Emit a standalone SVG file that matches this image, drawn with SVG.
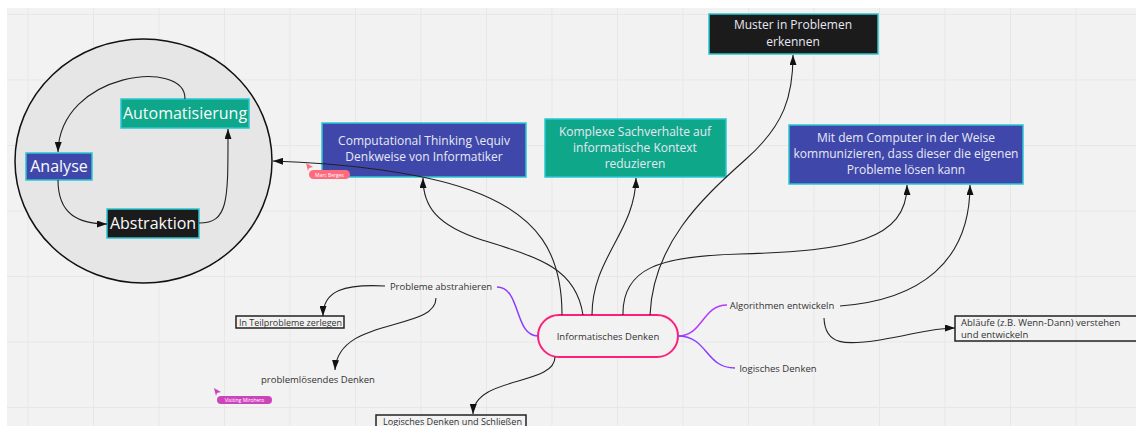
<svg xmlns="http://www.w3.org/2000/svg" width="1136" height="426" viewBox="0 0 1136 426">
<defs>
<marker id="ah" viewBox="0 0 10 7" refX="10" refY="3.5" markerWidth="10" markerHeight="7" markerUnits="userSpaceOnUse" orient="auto">
<path d="M0,0 L10,3.5 L0,7 z" fill="#111"/>
</marker>
<style>
.t{font-family:"Open Sans","Liberation Sans",sans-serif;fill:#333;}
.bt{font-family:"Open Sans","Liberation Sans",sans-serif;fill:#e8e8f4;font-size:12px;text-anchor:middle;}
.big{font-family:"Open Sans","Liberation Sans",sans-serif;fill:#fafafa;font-size:16px;text-anchor:middle;}
.box{stroke:#2ac6d2;stroke-width:1.5;}
.blue{fill:#3f48aa;}
.teal{fill:#0ea789;}
.dark{fill:#1b1b1b;}
.outl{fill:none;stroke:#222;stroke-width:1.5;}
.c{fill:none;stroke:#222;stroke-width:1.1;}
.ca{fill:none;stroke:#222;stroke-width:1.1;marker-end:url(#ah);}
.tag{font-family:"Open Sans","Liberation Sans",sans-serif;fill:#fff;font-size:5px;text-anchor:middle;}
</style>
</defs>
<rect x="0" y="0" width="1136" height="426" fill="#ffffff"/>
<rect x="7" y="8" width="1129" height="418" fill="#f2f2f2"/>
<path d="M28,8V426M93.5,8V426M159,8V426M224.5,8V426M290,8V426M355.5,8V426M421,8V426M486.5,8V426M552,8V426M617.5,8V426M683,8V426M748.5,8V426M814,8V426M879.5,8V426M945,8V426M1010.5,8V426M1076,8V426M7,14.5H1136M7,80H1136M7,145.5H1136M7,211H1136M7,276.5H1136M7,342H1136M7,407.5H1136" stroke="#e7e7e7" stroke-width="1" fill="none"/>

<g id="cycle-circle">
<ellipse cx="143.5" cy="161" rx="128.5" ry="122" fill="#e6e6e6" stroke="#111" stroke-width="1.5"/>
</g>

<g id="node-automatisierung">
<rect class="box teal" x="121" y="99" width="128" height="29"/>
<text class="big" x="185" y="119">Automatisierung</text>
</g>
<g id="node-analyse">
<rect class="box blue" x="26" y="153" width="66" height="27"/>
<text class="big" x="59" y="172">Analyse</text>
</g>
<g id="node-abstraktion">
<rect class="box dark" x="107" y="209" width="92" height="29"/>
<text class="big" x="153" y="229">Abstraktion</text>
</g>

<g id="node-computational">
<rect class="box blue" x="322" y="123" width="204" height="54"/>
<text class="bt" x="424" y="145">Computational Thinking \equiv</text>
<text class="bt" x="424" y="161">Denkweise von Informatiker</text>
</g>
<g id="node-komplexe">
<rect class="box teal" x="545" y="119" width="181" height="58"/>
<text class="bt" x="635" y="136">Komplexe Sachverhalte auf</text>
<text class="bt" x="635" y="152">informatische Kontext</text>
<text class="bt" x="635" y="168">reduzieren</text>
</g>
<g id="node-muster">
<rect class="box dark" x="709" y="14" width="169" height="40"/>
<text class="bt" x="793" y="29">Muster in Problemen</text>
<text class="bt" x="793" y="46">erkennen</text>
</g>
<g id="node-computer">
<rect class="box blue" x="789" y="125" width="234" height="59"/>
<text class="bt" x="906" y="142">Mit dem Computer in der Weise</text>
<text class="bt" x="906" y="158">kommunizieren, dass dieser die eigenen</text>
<text class="bt" x="906" y="174">Probleme lösen kann</text>
</g>

<g id="node-informatisches-denken">
<rect x="538" y="315" width="140" height="42" rx="21" fill="#f2f2f2" stroke="#ff1f7a" stroke-width="2"/>
<text class="t" x="608" y="339.5" font-size="9.5" text-anchor="middle">Informatisches Denken</text>
</g>
<g id="node-probleme-abstrahieren">
<text class="t" x="441" y="289.5" font-size="9.5" text-anchor="middle">Probleme abstrahieren</text>
</g>
<g id="node-algorithmen">
<text class="t" x="782" y="308.5" font-size="9.5" text-anchor="middle">Algorithmen entwickeln</text>
</g>
<g id="node-logisches-denken">
<text class="t" x="778" y="371.5" font-size="9.5" text-anchor="middle">logisches Denken</text>
</g>
<g id="node-teilprobleme">
<rect class="outl" x="236" y="316" width="108" height="12"/>
<text class="t" x="239" y="325.5" font-size="9.5" textLength="103" lengthAdjust="spacingAndGlyphs">In Teilprobleme zerlegen</text>
</g>
<g id="node-problemloesendes">
<text class="t" x="318" y="382.5" font-size="9.5" text-anchor="middle">problemlösendes Denken</text>
</g>
<g id="node-ablaeufe">
<rect class="outl" x="955" y="316" width="182" height="25"/>
<text class="t" x="961" y="325.5" font-size="9.5">Abläufe (z.B. Wenn-Dann) verstehen</text>
<text class="t" x="961" y="338" font-size="9.5">und entwickeln</text>
</g>
<g id="node-logisches-schliessen">
<rect class="outl" x="376" y="415" width="150" height="16"/>
<text class="t" x="383" y="424.5" font-size="9.5" textLength="139" lengthAdjust="spacingAndGlyphs">Logisches Denken und Schließen</text>
</g>

<g id="connectors">
<path class="ca" d="M185,99 C186,58 60,72 58,152"/>
<path class="ca" d="M58,180 C58,214 78,224 107,224"/>
<path class="ca" d="M199,223 C229,223 228,200 228,129"/>
<path class="ca" d="M562,315 C562,255 540,215 470,190 C420,172 340,163 273,161"/>
<path class="ca" d="M583,315 C576,268 540,258 482,240 C436,225 423,206 423,178"/>
<path class="ca" d="M592,315 C592,258 635,232 636,178"/>
<path class="ca" d="M623,315 C622,268 660,256 740,254 C850,251 907,240 907,185"/>
<path class="ca" d="M650,315 C653,245 700,200 745,160 C785,125 793,95 793,55"/>
<path class="ca" d="M555,357 C555,386 474,376 473,414"/>
<path d="M538,336 C514,336 521,287 497,287" fill="none" stroke="#8b3cff" stroke-width="1.5"/>
<path d="M678,336 C703,336 702,305 727,305" fill="none" stroke="#b43cff" stroke-width="1.5"/>
<path d="M678,336 C708,336 705,368 735,368" fill="none" stroke="#8b3cff" stroke-width="1.5"/>
<path class="ca" d="M385,286 C345,284 323,290 323,316"/>
<path class="ca" d="M436,298 C436,332 338,316 335,370"/>
<path class="ca" d="M840,306 C920,300 970,262 970,185"/>
<path class="ca" d="M824,318 C825,346 846,345 880,340 C912,335 930,328 955,328"/>
</g>

<g id="cursor-marc">
<path d="M306,163 L313,167 L309,168 L308,171 z" fill="#ff6a7d"/>
<rect x="309" y="170" width="41" height="9" rx="4.5" fill="#ff6a7d"/>
<text class="tag" x="329.5" y="176.5">Marc Berges</text>
</g>
<g id="cursor-visiting">
<path d="M214,388 L221,392 L217,393 L216,396 z" fill="#cc44bb"/>
<rect x="217" y="396" width="55" height="8" rx="4" fill="#cc44bb"/>
<text class="tag" x="244.5" y="402">Visiting Mirohero</text>
</g>
</svg>
